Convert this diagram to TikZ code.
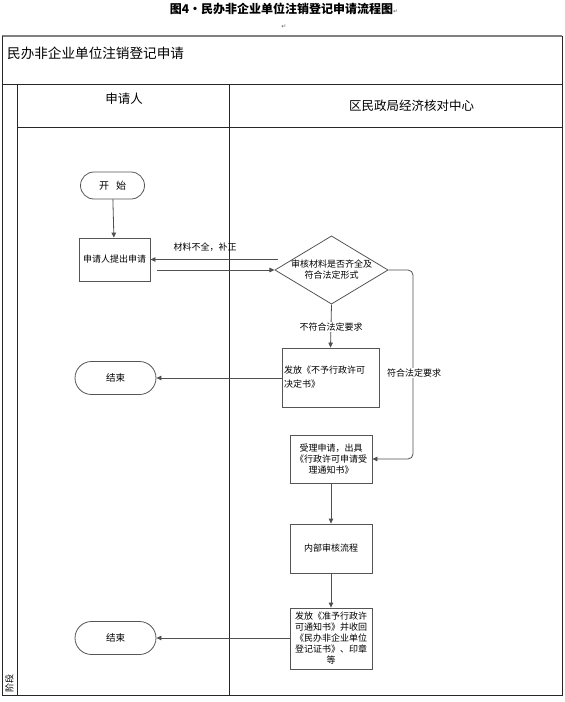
\documentclass[tikz,border=0pt]{standalone}
\usepackage{fontspec}
\setmainfont{Noto Sans CJK SC}
\newfontfamily\symfont{DejaVu Sans}
\usetikzlibrary{shapes.geometric,shapes.misc,arrows.meta}
\definecolor{linegray}{HTML}{505050}
\definecolor{boxgray}{HTML}{555555}
\definecolor{framegray}{HTML}{808080}
\begin{document}
\begin{tikzpicture}[x=1pt,y=-1pt,
  lane/.style={draw=black!85, line width=0.8pt},
  conn/.style={draw=linegray, line width=0.8pt, -{Triangle[length=5pt,width=4.5pt]}},
  procbox/.style={draw=boxgray, line width=0.8pt, fill=white, font=\fontsize{9}{11}\selectfont, align=center, inner sep=2pt},
  term/.style={rounded rectangle, draw=boxgray, line width=0.8pt, fill=white, inner sep=1pt},
  decision/.style={diamond, draw=boxgray, line width=0.8pt, fill=white, aspect=1.66, inner sep=0pt, font=\fontsize{9}{11}\selectfont, align=center},
  lbl/.style={font=\fontsize{9}{11}\selectfont, inner sep=1pt}]
\fill[white] (0,0) rectangle (565,702);
\useasboundingbox (0,0) rectangle (565,702);
% title
\node[font=\fontsize{12}{14}\selectfont\bfseries] (title) at (284,9) {图4·民办非企业单位注销登记申请流程图{\symfont\mdseries\fontsize{6}{6}\selectfont\color{black!60}↵}};
\node[font=\symfont\fontsize{6}{6}\selectfont, text=black!60] (para) at (284,27) {↵};
% frame and lanes
\draw[draw=framegray, line width=1.6pt] (2,36) -- (562,36);
\draw[lane] (2,36) -- (2,695) -- (562,695) -- (562,36);
\draw[lane] (2,84) -- (562,84);
\draw[lane] (17,84) -- (17,695);
\draw[lane] (17,127) -- (562,127);
\draw[lane] (229,84) -- (229,695);
\node[anchor=west, font=\fontsize{13.6}{15}\selectfont, inner sep=0pt] (phase) at (7,53) {民办非企业单位注销登记申请};
\node[font=\fontsize{12.5}{14}\selectfont, inner sep=0pt] (lane1) at (124,99) {申请人};
\node[anchor=west, font=\fontsize{12.5}{14}\selectfont, inner sep=0pt] (lane2) at (349,106) {区民政局经济核对中心};
\node[rotate=90, font=\fontsize{9}{9}\selectfont, inner sep=0pt] (stage) at (9.5,683) {阶段};
% nodes
\node[term, minimum width=66pt, minimum height=27pt, font=\fontsize{10}{12}\selectfont] (start) at (112.5,185.5) {开\hspace{7pt}始};
\node[procbox, minimum width=71pt, minimum height=43pt] (apply) at (114.5,259.5) {申请人提出申请};
\node[decision, minimum width=113pt, minimum height=68pt] (check) at (331.5,270) {审核材料是否齐全及\\符合法定形式};
\node[procbox, text width=93pt, align=left, minimum height=59pt] (deny) at (330.5,377.5) {\vspace{3pt}发放《不予行政许可\\决定书》};
\node[term, minimum width=83pt, minimum height=33pt, font=\fontsize{9.5}{11}\selectfont] (end1) at (115.5,378) {结束};
\node[procbox, text width=78pt, minimum height=48pt] (accept) at (331,459) {受理申请，出具\\《行政许可申请受\\理通知书》};
\node[procbox, text width=78pt, minimum height=49pt] (review) at (331,548.5) {内部审核流程};
\node[procbox, text width=78pt, minimum height=61pt] (grant) at (331,638.5) {发放《准予行政许\\可通知书》并收回\\《民办非企业单位\\登记证书》、印章\\等};
\node[term, minimum width=83pt, minimum height=33pt, font=\fontsize{9.5}{11}\selectfont] (end2) at (115.5,638) {结束};
% connectors
\coordinate (fbstart) at (278,259.5);
\coordinate (substart) at (157,270);
\coordinate (turn) at (413,459);
\draw[conn] (start) -- (apply);
\draw[conn] (fbstart) -- (apply.east |- fbstart);
\draw[conn] (substart) -- (check.west);
\node[lbl] (lblfix) at (205,247) {材料不全，补正};
\draw[conn] (check.south) -- (deny.north);
\node[lbl, fill=white] (lblno) at (331,327) {不符合法定要求};
\draw[conn] (deny.west |- end1.east) -- (end1.east);
\draw[conn, rounded corners=5pt] (check.east) -| (turn) -- (accept.east);
\node[lbl, fill=white] (lblyes) at (414,373) {符合法定要求};
\draw[conn] (accept) -- (review);
\draw[conn] (review) -- (grant);
\draw[conn] (grant.west |- end2.east) -- (end2.east);
\end{tikzpicture}
\end{document}
